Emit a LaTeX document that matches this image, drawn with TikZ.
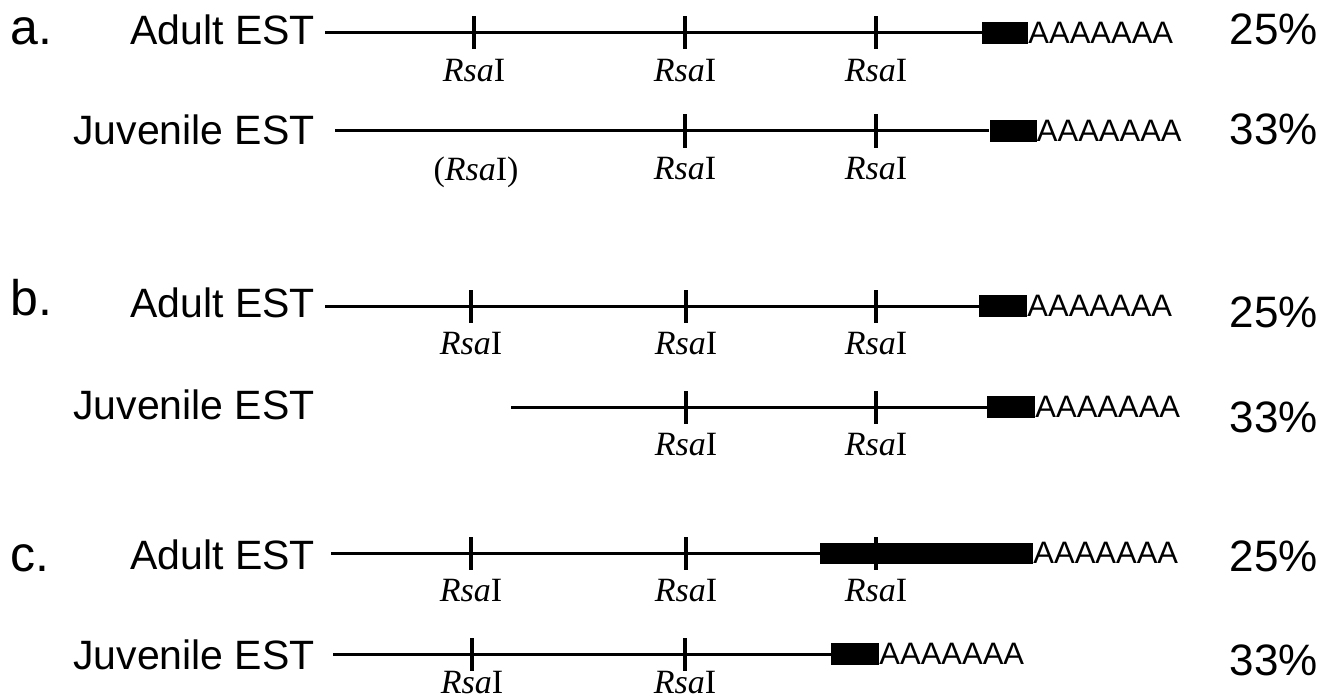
\documentclass[tikz,border=0pt]{standalone}
\usepackage{fontspec}
\setmainfont{Liberation Serif}
\setsansfont{Liberation Sans}
\usepackage{tikz}
\tikzstyle{cut}=[rectangle, fill=black, inner sep=0pt, minimum width=3.2pt, minimum height=33pt]
\tikzstyle{tail}=[rectangle, fill=black, inner sep=0pt, minimum height=22pt, label distance=3pt]
\tikzstyle{rsa}=[font=\fontsize{34}{34}\selectfont, inner sep=0pt, yshift=-9pt]
\tikzstyle{polya}=[font=\sffamily\fontsize{31}{31}\selectfont, inner sep=0pt]
\tikzstyle{est}=[font=\sffamily\fontsize{41}{41}\selectfont, inner sep=0pt, anchor=base east]
\tikzstyle{panel}=[font=\sffamily\fontsize{50}{50}\selectfont, inner sep=0pt, anchor=base west]
\tikzstyle{pct}=[font=\sffamily\fontsize{44}{44}\selectfont, inner sep=0pt, anchor=base east]
\newcommand{\cut}{\node[cut]}
\newcommand{\Rsa}{\textit{Rsa}I}

\begin{document}
\begin{tikzpicture}[x=1pt,y=-1pt]
	\useasboundingbox (0,0) rectangle (1322,698);
	% a.
	\node[panel] (pa) at (10,45) {a.};
	\node[est] (a1) at (315,45) {Adult EST};
	\coordinate (a1s) at (325,33);
	\cut (a11) at (474,33)[label={[rsa]below:\Rsa}] {};
	\cut (a12) at (685,33)[label={[rsa]below:\Rsa}] {};
	\cut (a13) at (876,33)[label={[rsa]below:\Rsa}] {};
	\node[tail, minimum width=46pt, label={[polya]right:AAAAAAA}] (a1t) at (1005,33) {};
	\node[pct] (a1p) at (1318,45) {25\%};
	\node[est] (a2) at (315,145) {Juvenile EST};
	\coordinate (a2s) at (335,131);
	\cut (a21) at (476,131)[fill=none, label={[rsa]below:(\Rsa)}] {};
	\cut (a22) at (685,131)[label={[rsa]below:\Rsa}] {};
	\cut (a23) at (876,131)[label={[rsa]below:\Rsa}] {};
	\node[tail, minimum width=47pt, label={[polya]right:AAAAAAA}] (a2t) at (1013,131) {};
	\node[pct] (a2p) at (1318,145) {33\%};
	% b.
	\node[panel] (pb) at (10,315) {b.};
	\node[est] (b1) at (315,317) {Adult EST};
	\coordinate (b1s) at (325,306);
	\cut (b11) at (471,306)[label={[rsa]below:\Rsa}] {};
	\cut (b12) at (686,306)[label={[rsa]below:\Rsa}] {};
	\cut (b13) at (876,306)[label={[rsa]below:\Rsa}] {};
	\node[tail, minimum width=48pt, label={[polya]right:AAAAAAA}] (b1t) at (1003,306) {};
	\node[pct] (b1p) at (1318,327) {25\%};
	\node[est] (b2) at (315,419) {Juvenile EST};
	\coordinate (b2s) at (511,407);
	\cut (b22) at (686,407)[label={[rsa]below:\Rsa}] {};
	\cut (b23) at (876,407)[label={[rsa]below:\Rsa}] {};
	\node[tail, minimum width=48pt, label={[polya]right:AAAAAAA}] (b2t) at (1011,407) {};
	\node[pct] (b2p) at (1318,432) {33\%};
	% c.
	\node[panel] (pc) at (10,571) {c.};
	\node[est] (c1) at (315,569) {Adult EST};
	\coordinate (c1s) at (331,553);
	\cut (c11) at (471,553)[label={[rsa]below:\Rsa}] {};
	\cut (c12) at (686,553)[label={[rsa]below:\Rsa}] {};
	\node[tail, minimum width=213pt, minimum height=21pt, label={[polya]right:AAAAAAA}] (c1t) at (926.5,553) {};
	\cut (c13) at (876,553)[label={[rsa]below:\Rsa}] {};
	\node[pct] (c1p) at (1318,571) {25\%};
	\node[est] (c2) at (315,669) {Juvenile EST};
	\coordinate (c2s) at (333,654);
	\cut (c21) at (472,654)[label={[rsa,yshift=9pt]below:\Rsa}] {};
	\cut (c22) at (685,654)[label={[rsa,yshift=9pt]below:\Rsa}] {};
	\node[tail, minimum width=48pt, label={[polya]right:AAAAAAA}] (c2t) at (855,654) {};
	\node[pct] (c2p) at (1318,675) {33\%};

	\path[line width=3pt]
		(a1s) edge (a1t)
		(a2s) edge (a2t)
		(b1s) edge (b1t)
		(b2s) edge (b2t)
		(c1s) edge (c1t)
		(c2s) edge (c2t)
	;
\end{tikzpicture}
\end{document}
